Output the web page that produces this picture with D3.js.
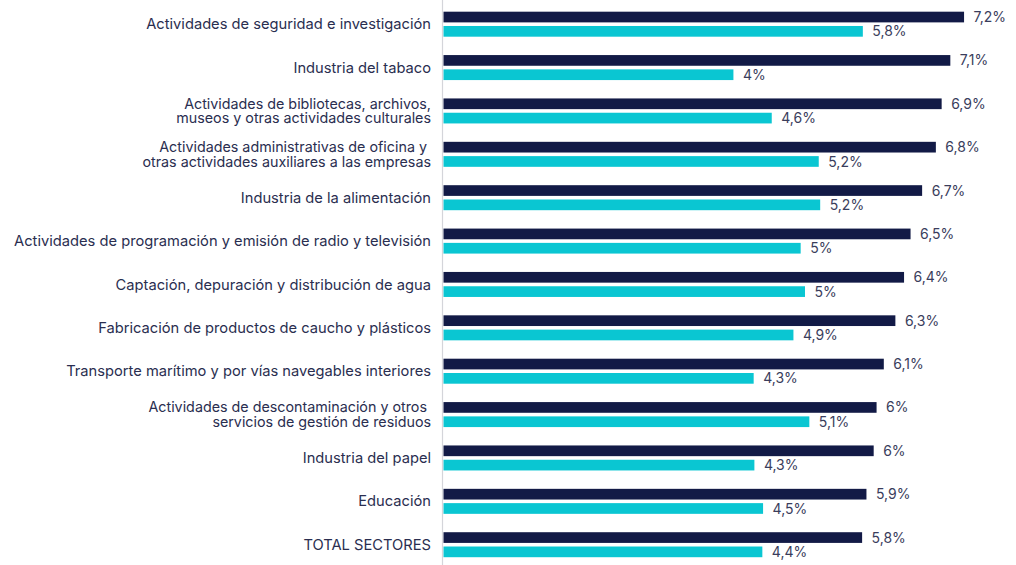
<!DOCTYPE html>
<html><head><meta charset="utf-8">
<script src="https://cdn.jsdelivr.net/npm/d3@7"></script>
<style>body{margin:0;background:#fff}svg{display:block}text{white-space:pre}</style>
</head><body>
<svg id="c" width="1016" height="565"></svg>
<script>
const categories = [
  ["Actividades de seguridad e investigación"],
  ["Industria del tabaco"],
  ["Actividades de bibliotecas, archivos,", "museos y otras actividades culturales"],
  ["Actividades administrativas de oficina y ", "otras actividades auxiliares a las empresas"],
  ["Industria de la alimentación"],
  ["Actividades de programación y emisión de radio y televisión"],
  ["Captación, depuración y distribución de agua"],
  ["Fabricación de productos de caucho y plásticos"],
  ["Transporte marítimo y por vías navegables interiores"],
  ["Actividades de descontaminación y otros ", "servicios de gestión de residuos"],
  ["Industria del papel"],
  ["Educación"],
  ["TOTAL SECTORES"]
];
// bar lengths
const series1 = [7.20, 7.01, 6.89, 6.81, 6.62, 6.46, 6.37, 6.25, 6.09, 5.99, 5.95, 5.85, 5.79];
const series2 = [5.80, 4.01, 4.54, 5.19, 5.21, 4.94, 5.00, 4.84, 4.29, 5.06, 4.30, 4.42, 4.41];
// printed value labels
const labels1 = ["7,2%", "7,1%", "6,9%", "6,8%", "6,7%", "6,5%", "6,4%", "6,3%", "6,1%", "6%", "6%", "5,9%", "5,8%"];
const labels2 = ["5,8%", "4%", "4,6%", "5,2%", "5,2%", "5%", "5%", "4,9%", "4,3%", "5,1%", "4,3%", "4,5%", "4,4%"];
const colors = ["#121a46", "#0ac6d2"];

const svg = d3.select("#c");
const x0 = 443.5;
const x = d3.scaleLinear().domain([0, 1]).range([x0, x0 + 72.3]);
const y = d3.scaleBand().domain(d3.range(categories.length)).range([2.5, 566.4]).paddingInner(0).paddingOuter(0);
const barH = 10.7, gap = 3.6;
const font = "Inter, 'Open Sans', sans-serif";

svg.append("line").attr("x1", 442.5).attr("x2", 442.5).attr("y1", 0).attr("y2", 565)
  .attr("stroke", "#d4d5da").attr("stroke-width", 1.2);

const g = svg.append("g");
categories.forEach((cat, i) => {
  const c = y(i) + y.bandwidth() / 2;
  const top = c - (2 * barH + gap) / 2;
  [[series1[i], labels1[i]], [series2[i], labels2[i]]].forEach(([v, lab], s) => {
    const by = top + s * (barH + gap);
    g.append("rect").attr("x", x(0)).attr("y", by).attr("width", x(v) - x(0)).attr("height", barH)
      .attr("fill", colors[s]);
    g.append("text").attr("x", x(v) + 9.5).attr("y", by + barH / 2).attr("dy", "0.36em")
      .attr("font-family", font).attr("font-size", 14).attr("fill", "#3a3d5c")
      .text(lab);
  });
  const n = cat.length;
  const t = g.append("text").attr("x", 431).attr("text-anchor", "end")
    .attr("font-family", font).attr("font-size", n > 1 ? 14.3 : 14.7).attr("fill", "#2a2e50");
  cat.forEach((line, k) => {
    t.append("tspan").attr("x", 431).attr("y", c + (k - (n - 1) / 2) * 14.6).attr("dy", "0.35em").text(line);
  });
});
</script>
</body></html>
